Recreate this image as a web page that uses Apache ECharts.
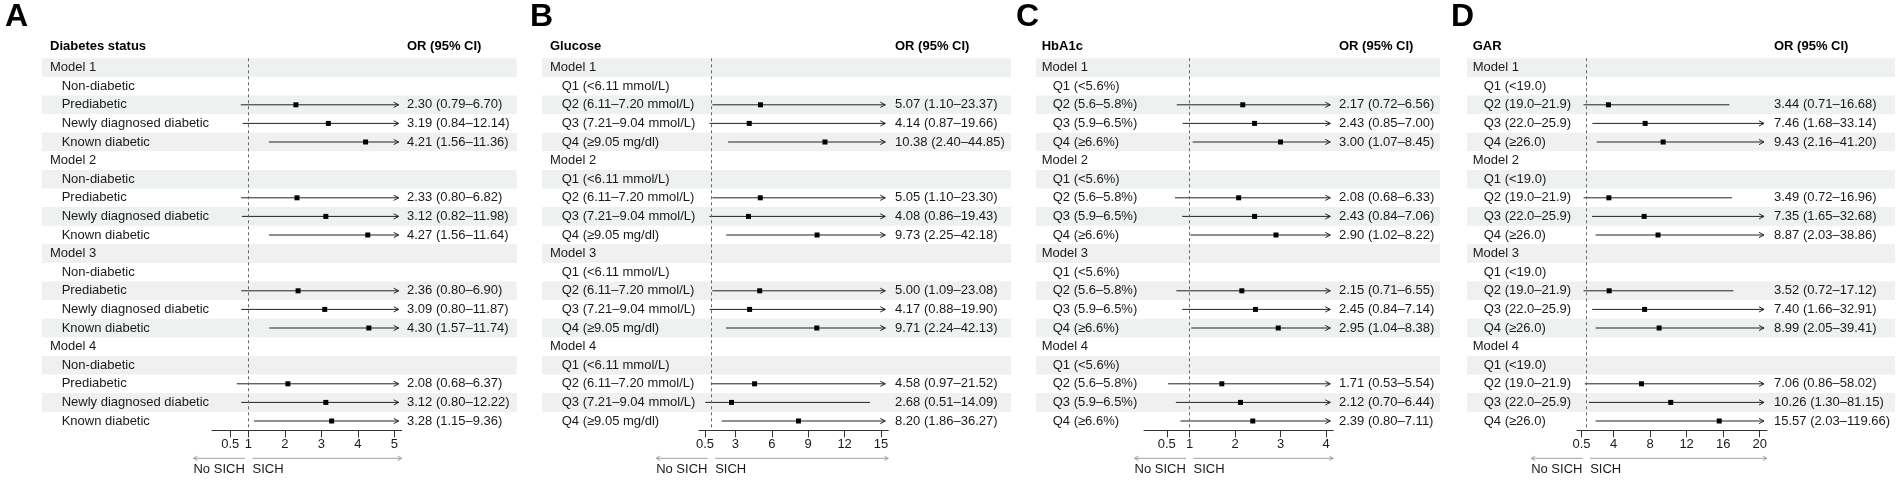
<!DOCTYPE html>
<html><head><meta charset="utf-8">
<script src="https://cdn.jsdelivr.net/npm/echarts@6/dist/echarts.min.js"></script>
<style>html,body{margin:0;padding:0;background:#fff}#c{width:1902px;height:480px}</style>
</head><body><div id="c"></div>
<script>
// ---------------- DATA ----------------
const modelNames = ['Model 1', 'Model 2', 'Model 3', 'Model 4'];
const panelLetters = ['A', 'B', 'C', 'D'];
const panelTitles = ['Diabetes status', 'Glucose', 'HbA1c', 'GAR'];
const orHeader = 'OR (95% CI)';
const groupsA = ['Non-diabetic', 'Prediabetic', 'Newly diagnosed diabetic', 'Known diabetic'];
const groupsB = ['Q1 (<6.11 mmol/L)', 'Q2 (6.11–7.20 mmol/L)', 'Q3 (7.21–9.04 mmol/L)', 'Q4 (≥9.05 mg/dl)'];
const groupsC = ['Q1 (<5.6%)', 'Q2 (5.6–5.8%)', 'Q3 (5.9–6.5%)', 'Q4 (≥6.6%)'];
const groupsD = ['Q1 (<19.0)', 'Q2 (19.0–21.9)', 'Q3 (22.0–25.9)', 'Q4 (≥26.0)'];
// per model: values for groups 2..4 (group 1 is the reference)
const orA = [[2.30, 3.19, 4.21], [2.33, 3.12, 4.27], [2.36, 3.09, 4.30], [2.08, 3.12, 3.28]];
const loA = [[0.79, 0.84, 1.56], [0.80, 0.82, 1.56], [0.80, 0.80, 1.57], [0.68, 0.80, 1.15]];
const hiA = [[6.70, 12.14, 11.36], [6.82, 11.98, 11.64], [6.90, 11.87, 11.74], [6.37, 12.22, 9.36]];
const orB = [[5.07, 4.14, 10.38], [5.05, 4.08, 9.73], [5.00, 4.17, 9.71], [4.58, 2.68, 8.20]];
const loB = [[1.10, 0.87, 2.40], [1.10, 0.86, 2.25], [1.09, 0.88, 2.24], [0.97, 0.51, 1.86]];
const hiB = [[23.37, 19.66, 44.85], [23.30, 19.43, 42.18], [23.08, 19.90, 42.13], [21.52, 14.09, 36.27]];
const orC = [[2.17, 2.43, 3.00], [2.08, 2.43, 2.90], [2.15, 2.45, 2.95], [1.71, 2.12, 2.39]];
const loC = [[0.72, 0.85, 1.07], [0.68, 0.84, 1.02], [0.71, 0.84, 1.04], [0.53, 0.70, 0.80]];
const hiC = [[6.56, 7.00, 8.45], [6.33, 7.06, 8.22], [6.55, 7.14, 8.38], [5.54, 6.44, 7.11]];
const orD = [[3.44, 7.46, 9.43], [3.49, 7.35, 8.87], [3.52, 7.40, 8.99], [7.06, 10.26, 15.57]];
const loD = [[0.71, 1.68, 2.16], [0.72, 1.65, 2.03], [0.72, 1.66, 2.05], [0.86, 1.30, 2.03]];
const hiD = [[16.68, 33.14, 41.20], [16.96, 32.68, 38.86], [17.12, 32.91, 39.41], [58.02, 81.15, 119.66]];
const ticksA = [0.5, 1, 2, 3, 4, 5];
const ticksB = [0.5, 3, 6, 9, 12, 15];
const ticksC = [0.5, 1, 2, 3, 4];
const ticksD = [0.5, 4, 8, 12, 16, 20];
const refValue = 1;
const leftArrowLabel = 'No SICH';
const rightArrowLabel = 'SICH';

// ---------------- LAYOUT ----------------
const layouts = [
  {letterX: 5,    stripeL: 41.7, stripeR: 516.7, labelX: 50,     subX: 61.7,   axisL: 212,  axisR: 401.7,  textX: 407},
  {letterX: 530,  stripeL: 542,  stripeR: 1011,  labelX: 550,    subX: 561.7,  axisL: 699,  axisR: 888.3,  textX: 895},
  {letterX: 1016, stripeL: 1036, stripeR: 1440,  labelX: 1041.7, subX: 1052.7, axisL: 1144, axisR: 1333.3, textX: 1339},
  {letterX: 1451, stripeL: 1467, stripeR: 1895,  labelX: 1472.7, subX: 1483.7, axisL: 1577, axisR: 1767,   textX: 1774}
];
const GRID_TOP = 58.3, ROW_H = 18.6, N_ROWS = 20;
const FONT = '"Liberation Sans", Arial, Helvetica, sans-serif';
const TXT = '#1a1a1a';
const STRIPE = '#eef1f0';

const panels = [
  {groups: groupsA, or: orA, lo: loA, hi: hiA, ticks: ticksA},
  {groups: groupsB, or: orB, lo: loB, hi: hiB, ticks: ticksB},
  {groups: groupsC, or: orC, lo: loC, hi: hiC, ticks: ticksC},
  {groups: groupsD, or: orD, lo: loD, hi: hiD, ticks: ticksD}
];

function fmt(v) { return v.toFixed(2); }

const grids = [], xAxes = [], yAxes = [], series = [], graphics = [];
panels.forEach((P, p) => {
  const L = layouts[p];
  const xmax = P.ticks[P.ticks.length - 1] * 1.04;
  const rows = [];
  modelNames.forEach((mn, m) => {
    rows.push({label: mn, sub: false});
    P.groups.forEach((g, gi) => {
      if (gi === 0) rows.push({label: g, sub: true});
      else rows.push({label: g, sub: true, or: P.or[m][gi - 1], lo: P.lo[m][gi - 1], hi: P.hi[m][gi - 1]});
    });
  });
  grids.push({left: L.axisL, width: L.axisR - L.axisL, top: GRID_TOP, height: ROW_H * N_ROWS, containLabel: false});
  xAxes.push({
    type: 'value', gridIndex: p, min: 0, max: xmax, position: 'bottom',
    splitLine: {show: false},
    axisLine: {show: true, lineStyle: {color: '#333', width: 1}},
    axisTick: {show: true, customValues: P.ticks, length: 7, lineStyle: {color: '#333'}},
    axisLabel: {show: true, customValues: P.ticks, margin: 8, color: TXT, fontSize: 13, fontFamily: FONT,
      formatter: v => String(v)}
  });
  yAxes.push({type: 'category', gridIndex: p, inverse: true, show: false,
    data: rows.map((r, i) => String(i))});

  // stripes + labels + CIs
  series.push({
    type: 'custom', xAxisIndex: p, yAxisIndex: p, z: 2, clip: false, silent: true,
    data: rows.map((r, i) => [refValue, i]),
    renderItem: (params, api) => {
      const i = params.dataIndex, r = rows[i];
      const cy = api.coord([0, i])[1];
      const bh = api.size([0, 1])[1];
      const ch = [];
      if (i % 2 === 0) ch.push({type: 'rect', shape: {x: L.stripeL, y: cy - bh / 2, width: L.stripeR - L.stripeL, height: bh}, style: {fill: STRIPE}, z2: 0});
      ch.push({type: 'text', z2: 5, style: {x: r.sub ? L.subX : L.labelX, y: cy, text: r.label, fill: TXT,
        font: '13px ' + FONT, verticalAlign: 'middle', align: 'left'}});
      if (r.or != null) {
        const x1 = api.coord([r.lo, i])[0];
        let x2 = api.coord([Math.min(r.hi, xmax), i])[0];
        const over = r.hi > xmax;
        if (over) x2 -= 3;
        ch.push({type: 'line', z2: 3, shape: {x1: x1, y1: cy, x2: x2, y2: cy}, style: {stroke: '#222', lineWidth: 1}});
        if (over) ch.push({type: 'polyline', z2: 3, shape: {points: [[x2 - 5, cy - 2.6], [x2, cy], [x2 - 5, cy + 2.6]]}, style: {stroke: '#222', lineWidth: 1, fill: null}});
        const px = api.coord([r.or, i])[0];
        ch.push({type: 'rect', z2: 4, shape: {x: px - 2.5, y: cy - 2.5, width: 5, height: 5}, style: {fill: '#000'}});
        ch.push({type: 'text', z2: 5, style: {x: L.textX, y: cy, text: fmt(r.or) + ' (' + fmt(r.lo) + '–' + fmt(r.hi) + ')',
          fill: TXT, font: '13px ' + FONT, verticalAlign: 'middle', align: 'left'}});
      }
      return {type: 'group', children: ch};
    },
    markLine: {silent: true, symbol: 'none', z: 3, label: {show: false},
      lineStyle: {type: [3, 3], color: '#666', width: 1}, data: [{xAxis: refValue}]}
  });

  // header row + bottom direction arrows
  series.push({
    type: 'custom', xAxisIndex: p, yAxisIndex: p, z: 2, clip: false, silent: true,
    data: [[refValue, N_ROWS - 1]],
    renderItem: (params, api) => {
      const last = api.coord([refValue, N_ROWS - 1]);
      const bh = api.size([0, 1])[1];
      const bottom = last[1] + bh / 2;
      const rx = last[0];
      const rEnd = api.coord([xmax, N_ROWS - 1])[0];
      const ay = bottom + 28, ty = bottom + 39.5;
      const gray = '#a0a0a0';
      const lx1 = rx - 3.5, lx0 = lx1 - 51.5, rx0 = rx + 4;
      const top0 = api.coord([refValue, 0])[1] - bh / 2;
      return {type: 'group', children: [
        {type: 'text', style: {x: L.labelX, y: top0 - 11.5, text: panelTitles[p], fill: '#000', font: 'bold 13px ' + FONT, verticalAlign: 'middle', align: 'left'}},
        {type: 'text', style: {x: L.textX, y: top0 - 11.5, text: orHeader, fill: '#000', font: 'bold 13px ' + FONT, verticalAlign: 'middle', align: 'left'}},
        {type: 'line', shape: {x1: lx0, y1: ay, x2: lx1, y2: ay}, style: {stroke: gray, lineWidth: 1}},
        {type: 'polyline', shape: {points: [[lx0 + 4, ay - 2.2], [lx0, ay], [lx0 + 4, ay + 2.2]]}, style: {stroke: gray, lineWidth: 1, fill: null}},
        {type: 'line', shape: {x1: rx0, y1: ay, x2: rEnd, y2: ay}, style: {stroke: gray, lineWidth: 1}},
        {type: 'polyline', shape: {points: [[rEnd - 4, ay - 2.2], [rEnd, ay], [rEnd - 4, ay + 2.2]]}, style: {stroke: gray, lineWidth: 1, fill: null}},
        {type: 'text', style: {x: lx0, y: ty, text: leftArrowLabel, fill: TXT, font: '13px ' + FONT, verticalAlign: 'middle', align: 'left'}},
        {type: 'text', style: {x: rx0, y: ty, text: rightArrowLabel, fill: TXT, font: '13px ' + FONT, verticalAlign: 'middle', align: 'left'}}
      ]};
    }
  });

  graphics.push({type: 'text', left: L.letterX, top: 1, style: {text: panelLetters[p], fill: '#000', font: 'bold 32px ' + FONT}});
});

const chart = echarts.init(document.getElementById('c'), null, {renderer: 'canvas'});
chart.setOption({
  animation: false,
  backgroundColor: '#fff',
  grid: grids, xAxis: xAxes, yAxis: yAxes, series: series, graphic: graphics
});
</script></body></html>
